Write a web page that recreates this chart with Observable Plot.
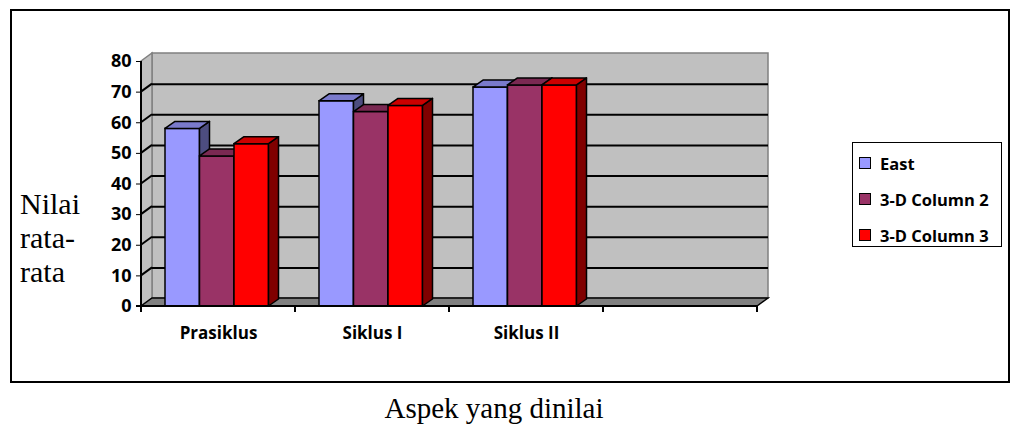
<!DOCTYPE html>
<html>
<head>
<meta charset="utf-8">
<script src="https://cdn.jsdelivr.net/npm/d3@7"></script>
<script src="https://cdn.jsdelivr.net/npm/@observablehq/plot@0.6"></script>
<style>
  html, body { margin: 0; padding: 0; background: #fff; }
  #wrap { position: relative; width: 1011px; height: 429px; overflow: hidden; }
  #chart { position: absolute; left: 0; top: 0; }
  #chart svg text { font-family: "Open Sans", sans-serif; font-weight: bold; }
  #chart svg g[aria-label^="y-axis"] text { font-size: 18px; }
  #frameBox { position: absolute; left: 10px; top: 9px; width: 996px; height: 370px; border: 2px solid #000; pointer-events: none; }
  #ytitle { position: absolute; left: 20px; top: 187px; font-family: "Liberation Serif", "Times New Roman", serif; font-size: 30px; line-height: 34px; color: #000; }
  #xtitle { position: absolute; left: 0; width: 988px; text-align: center; top: 391px; font-family: "Liberation Serif", "Times New Roman", serif; font-size: 29px; line-height: 34px; color: #000; }
  #legend { position: absolute; left: 852px; top: 142px; width: 148px; height: 103px; border: 1.5px solid #000; font-family: "Open Sans", sans-serif; font-weight: bold; font-size: 16.5px; }
  #legend .item { position: absolute; left: 6px; height: 20px; display: flex; align-items: center; white-space: nowrap; }
  #legend .sw { width: 12px; height: 12px; border: 1.5px solid #000; margin-right: 9px; box-sizing: border-box; }
</style>
</head>
<body>
<div id="wrap">
  <div id="chart"></div>
  <div id="frameBox"></div>
  <div id="ytitle">Nilai<br>rata-<br>rata</div>
  <div id="xtitle">Aspek yang dinilai</div>
  <div id="legend"></div>
</div>
<script>
// ---- data ----
const categories = ["Prasiklus", "Siklus I", "Siklus II", ""];
const seriesNames = ["East", "3-D Column 2", "3-D Column 3"];
const eastValues = [58, 67, 71.5];
const column2Values = [49, 63.5, 72.2];
const column3Values = [53, 65.5, 72.2];
const yTicks = [0, 10, 20, 30, 40, 50, 60, 70, 80];

// ---- styling / layout ----
const frontColors = ["#9999FF", "#993366", "#FF0000"];
const topColors = ["#7A7ACC", "#7A2952", "#CC0000"];
const sideColors = ["#4D4D80", "#4D1A33", "#800000"];
const WALL_DX = 11, WALL_DY = 8;
const BAR_DX = 10, BAR_DY = 7;
const GROUP_LEFT = 24, BAR_W = 34.5;

const seriesValues = [eastValues, column2Values, column3Values];
const rows = [];
seriesValues.forEach((vals, s) => vals.forEach((v, i) => rows.push({cat: categories[i], series: seriesNames[s], s, value: v})));

const width = 1011, height = 385;
const marginLeft = 141, marginRight = 254, marginTop = 61, marginBottom = 79;
const bandW = (width - marginLeft - marginRight) / categories.length;
const insetL = s => GROUP_LEFT + s * BAR_W;
const insetR = s => bandW - GROUP_LEFT - (s + 1) * BAR_W;

function pts(a) { return a.map(p => p.join(",")).join(" "); }

// walls + floor
function walls(index, scales) {
  const x = scales.x, y = scales.y;
  const bw = x.bandwidth();
  const x0 = x(categories[0]), x1 = x(categories[categories.length - 1]) + bw;
  const yTop = y(yTicks[yTicks.length - 1]), yBot = y(0);
  const g = d3.create("svg:g");
  g.append("rect").attr("x", x0 + WALL_DX).attr("y", yTop - WALL_DY)
    .attr("width", x1 - x0).attr("height", yBot - yTop)
    .attr("fill", "#C0C0C0").attr("stroke", "#808080").attr("stroke-width", 1.5);
  g.append("polygon").attr("points", pts([[x0, yTop], [x0 + WALL_DX, yTop - WALL_DY], [x0 + WALL_DX, yBot - WALL_DY], [x0, yBot]]))
    .attr("fill", "#C0C0C0").attr("stroke", "#808080").attr("stroke-width", 1.5);
  for (const v of yTicks.slice(1, -1)) {
    g.append("line").attr("x1", x0).attr("y1", y(v)).attr("x2", x0 + WALL_DX).attr("y2", y(v) - WALL_DY)
      .attr("stroke", "#000").attr("stroke-width", 2);
  }
  g.append("polygon").attr("points", pts([[x0, yBot], [x0 + WALL_DX, yBot - WALL_DY], [x1 + WALL_DX, yBot - WALL_DY], [x1, yBot]]))
    .attr("fill", "#808080").attr("stroke", "#000").attr("stroke-width", 1.5);
  return g.node();
}

// front axis lines and boundary ticks
function axesLines(index, scales) {
  const x = scales.x, y = scales.y;
  const bw = x.bandwidth();
  const x0 = x(categories[0]);
  const yTop = y(yTicks[yTicks.length - 1]), yBot = y(0);
  const g = d3.create("svg:g").attr("stroke", "#000").attr("stroke-width", 2);
  g.append("line").attr("x1", x0).attr("x2", x0).attr("y1", yTop).attr("y2", yBot);
  const xEnd = x(categories[categories.length - 1]) + bw;
  g.append("line").attr("x1", x0 - 5).attr("x2", xEnd).attr("y1", yBot).attr("y2", yBot);
  for (let i = 0; i <= categories.length; i++) {
    const xi = i < categories.length ? x(categories[i]) : xEnd;
    g.append("line").attr("x1", xi).attr("x2", xi).attr("y1", yBot).attr("y2", yBot + 6);
  }
  return g.node();
}

// 3D top & side faces for one series
function faces(s) {
  return function (index, scales) {
    const x = scales.x, y = scales.y;
    const bw = x.bandwidth();
    const g = d3.create("svg:g").attr("stroke", "#000").attr("stroke-width", 1.5).attr("stroke-linejoin", "round");
    seriesValues[s].forEach((v, i) => {
      const xl = x(categories[i]) + insetL(s);
      const xr = x(categories[i]) + bw - insetR(s);
      const yt = y(v), yb = y(0);
      g.append("polygon").attr("fill", sideColors[s])
        .attr("points", pts([[xr, yt], [xr + BAR_DX, yt - BAR_DY], [xr + BAR_DX, yb - BAR_DY], [xr, yb]]));
      g.append("polygon").attr("fill", topColors[s])
        .attr("points", pts([[xl, yt], [xl + BAR_DX, yt - BAR_DY], [xr + BAR_DX, yt - BAR_DY], [xr, yt]]));
    });
    return g.node();
  };
}

const seriesMarks = [];
seriesNames.forEach((name, s) => {
  seriesMarks.push(Plot.barY(rows.filter(r => r.s === s), {
    x: "cat", y: "value", fill: frontColors[s], stroke: "#000", strokeWidth: 1.5,
    insetLeft: insetL(s), insetRight: insetR(s)
  }));
  seriesMarks.push(faces(s));
});

const chart = Plot.plot({
  width, height, marginLeft, marginRight, marginTop, marginBottom,
  style: { fontFamily: "Open Sans, sans-serif", fontSize: "17px", fontWeight: "bold", color: "#000", background: "transparent", overflow: "visible" },
  x: { domain: categories, padding: 0, label: null, tickSize: 0, tickPadding: 20 },
  y: { domain: [0, 80], ticks: yTicks, tickSize: 5, tickPadding: 5, label: null },
  marks: [
    walls,
    Plot.ruleY(yTicks.slice(1, -1), { stroke: "#000", strokeWidth: 2, dx: WALL_DX, dy: -WALL_DY }),
    ...seriesMarks,
    axesLines
  ]
});
document.getElementById("chart").appendChild(chart);

// legend
const legend = d3.select("#legend");
seriesNames.forEach((name, s) => {
  const item = legend.append("div").attr("class", "item").style("top", (10 + s * 36) + "px");
  item.append("div").attr("class", "sw").style("background", frontColors[s]);
  item.append("span").text(name);
});
</script>
</body>
</html>
